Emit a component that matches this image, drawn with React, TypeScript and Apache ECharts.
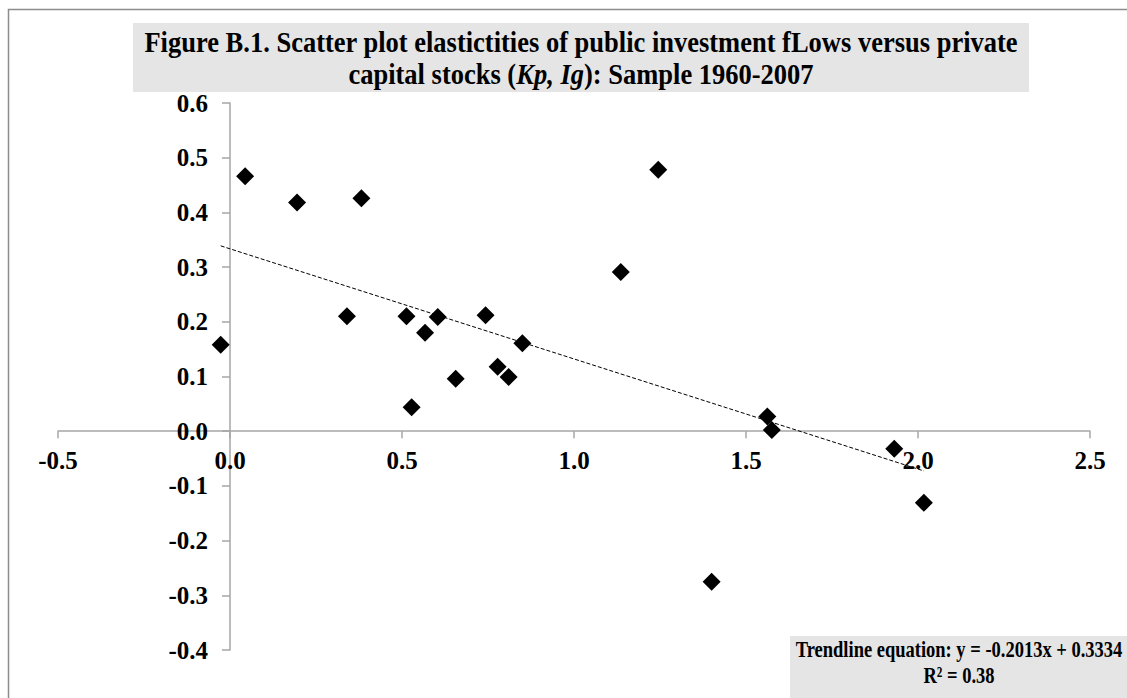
import React, { useEffect, useRef } from "react";
import * as echarts from "echarts";

// Elasticities: x = Kp, y = Ig
const kpValues = [-0.027, 0.044, 0.195, 0.340, 0.382, 0.513, 0.528, 0.567, 0.604, 0.656, 0.743, 0.778, 0.810, 0.850, 1.136, 1.245, 1.400, 1.562, 1.575, 1.931, 2.017];
const igValues = [0.158, 0.466, 0.418, 0.210, 0.426, 0.210, 0.044, 0.180, 0.209, 0.096, 0.212, 0.118, 0.099, 0.161, 0.291, 0.478, -0.275, 0.027, 0.002, -0.032, -0.131];

// Trendline (from the reference's equation)
const trendSlope = -0.2013;
const trendIntercept = 0.3334;
const trendXRange = [-0.027, 2.017];

const xAxisRange = { min: -0.5, max: 2.5, interval: 0.5 };
const yAxisRange = { min: -0.4, max: 0.6, interval: 0.1 };

const titleLine1 = "Figure B.1. Scatter plot elastictities of public investment fLows versus private";
const titleLine2 = "capital stocks ({i|Kp, Ig}): Sample 1960-2007";
const trendLine1 = "Trendline equation: y = -0.2013x + 0.3334";
const trendLine2 = "R² = 0.38";

const FONT = "'Liberation Serif', 'Times New Roman', serif";

const GRID = { left: 58, right: 37, top: 103, bottom: 48 };
const W = 1127;
const H = 698;

export default function App() {
  const ref = useRef<HTMLDivElement>(null);
  useEffect(() => {
    const chart = echarts.init(ref.current!, null, { renderer: "svg" });
    const points = kpValues.map((x, i) => [x, igValues[i]]);
    const trend = trendXRange.map((x) => [x, trendSlope * x + trendIntercept]);

    // place the axes where the other axis is zero (crossing axes)
    const gridW = W - GRID.left - GRID.right;
    const gridH = H - GRID.top - GRID.bottom;
    const xZeroOffset = -((0 - xAxisRange.min) / (xAxisRange.max - xAxisRange.min)) * gridW;
    const yZeroOffset = -((0 - yAxisRange.min) / (yAxisRange.max - yAxisRange.min)) * gridH;

    const labelStyle = {
      color: "#000",
      fontFamily: FONT,
      fontWeight: "bold" as const,
      fontSize: 25,
      formatter: (v: number) => v.toFixed(1),
    };
    const axisColor = "#a6a6a6";
    chart.setOption({
      animation: false,
      backgroundColor: "#fff",
      grid: { ...GRID, containLabel: false },
      xAxis: {
        type: "value",
        position: "bottom",
        offset: yZeroOffset,
        min: xAxisRange.min,
        max: xAxisRange.max,
        interval: xAxisRange.interval,
        axisLine: { show: true, onZero: false, lineStyle: { color: axisColor, width: 1.5 } },
        axisTick: { show: true, length: 7, lineStyle: { color: axisColor, width: 1.5 } },
        axisLabel: { ...labelStyle, margin: 17 },
        splitLine: { show: false },
      },
      yAxis: {
        type: "value",
        position: "left",
        offset: xZeroOffset,
        min: yAxisRange.min,
        max: yAxisRange.max,
        interval: yAxisRange.interval,
        axisLine: { show: true, onZero: false, lineStyle: { color: axisColor, width: 1.5 } },
        axisTick: { show: true, length: 8, lineStyle: { color: axisColor, width: 1.5 } },
        axisLabel: { ...labelStyle, margin: 22 },
        splitLine: { show: false },
      },
      series: [
        {
          type: "line",
          data: trend,
          symbol: "none",
          silent: true,
          lineStyle: { color: "#000", width: 1, type: [4, 2] },
          z: 3,
        },
        {
          type: "scatter",
          data: points,
          symbol: "diamond",
          symbolSize: 18,
          itemStyle: { color: "#000", opacity: 1 },
          z: 4,
        },
      ],
      graphic: [
        {
          type: "rect",
          shape: { x: 8.5, y: 9.5, width: 1300, height: 900 },
          style: { fill: "none", stroke: "#8c8c8c", lineWidth: 1.5 },
          silent: true,
          z: 0,
        },
        {
          type: "rect",
          shape: { x: 133, y: 23, width: 896, height: 69 },
          style: { fill: "#e5e5e5" },
          silent: true,
          z: 1,
        },
        {
          type: "text",
          x: 581,
          y: 42,
          scaleY: 1.14,
          z: 2,
          style: {
            text: titleLine1,
            fill: "#000",
            font: `bold 26.5px ${FONT}`,
            textAlign: "center",
            textVerticalAlign: "middle",
          },
        },
        {
          type: "text",
          x: 581,
          y: 74,
          scaleY: 1.14,
          z: 2,
          style: {
            text: titleLine2,
            fill: "#000",
            fontFamily: FONT,
            fontWeight: "bold",
            fontSize: 26.5,
            textAlign: "center",
            textVerticalAlign: "middle",
            rich: {
              i: { fontFamily: FONT, fontWeight: "bold", fontStyle: "italic", fontSize: 26.5, fill: "#000" },
            },
          },
        },
        {
          type: "rect",
          shape: { x: 790, y: 636, width: 345, height: 70 },
          style: { fill: "#e5e5e5" },
          silent: true,
          z: 1,
        },
        {
          type: "text",
          x: 959,
          y: 649,
          scaleY: 1.28,
          z: 2,
          style: {
            text: trendLine1,
            fill: "#000",
            font: `bold 18.5px ${FONT}`,
            textAlign: "center",
            textVerticalAlign: "middle",
          },
        },
        {
          type: "text",
          x: 959,
          y: 675,
          scaleY: 1.28,
          z: 2,
          style: {
            text: trendLine2,
            fill: "#000",
            font: `bold 18.5px ${FONT}`,
            textAlign: "center",
            textVerticalAlign: "middle",
          },
        },
      ],
    });
    return () => chart.dispose();
  }, []);
  return (
    <div
      ref={ref}
      style={{ position: "absolute", left: 0, top: 0, width: W, height: H }}
    />
  );
}
